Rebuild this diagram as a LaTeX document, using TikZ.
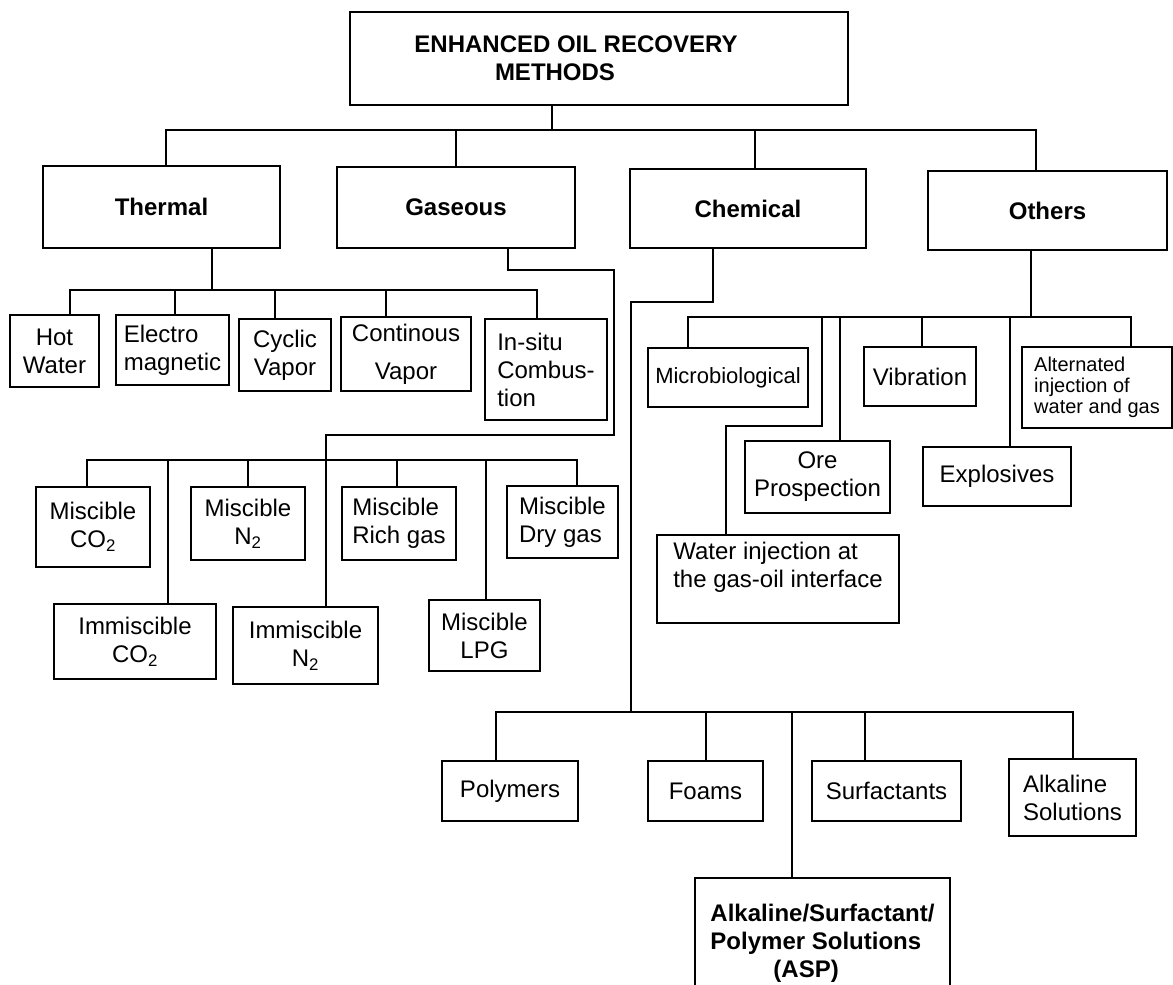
\documentclass[tikz,border=0pt]{standalone}
\usepackage{fontspec}
\setmainfont{Liberation Sans}

\begin{document}
\begin{tikzpicture}[
        x=1pt, y=-1pt,
        box/.style={draw, line width=1.8pt, inner sep=3pt, align=center,
                    font=\fontsize{24}{28}\selectfont},
        head/.style={box, font=\fontsize{24}{28}\selectfont\bfseries},
        note/.style={box, align=left, font=\fontsize{20}{21}\selectfont},
        wh/.style n args={2}{minimum width=#1pt, minimum height=#2pt},
        conn/.style={line width=1.8pt},
    ]
    \useasboundingbox (0,0) rectangle (1173,985);
    \clip (0,0) rectangle (1173,985);

    % --- Root ---
    \node[head, wh={498}{93}] (eor) at (599,58.5)
        {ENHANCED OIL RECOVERY\hspace*{46pt}\\METHODS\hspace*{88pt}};

    % --- Level 1 ---
    \node[head, wh={237}{82}] (thermal) at (161.5,207) {Thermal};
    \node[head, wh={238}{81}] (gaseous) at (456,207.5) {Gaseous};
    \node[head, wh={236}{79}] (chemical) at (748,208.5) {Chemical};
    \node[head, wh={239}{79}] (others) at (1047.5,210.5) {Others};

    % --- Thermal ---
    \node[box, wh={89}{72}] (hotwater) at (54.5,351) {Hot\\Water};
    \node[box, align=left, wh={113}{70}] (electro) at (172.5,350) {Electro\\magnetic};
    \node[box, wh={92}{72}] (cyclic) at (285,355) {Cyclic\\Vapor};
    \node[box, wh={130}{74}] (continous) at (406,354) {Continous\\[10pt]Vapor};
    \node[box, align=left, wh={122}{101}] (insitu) at (546,369.5) {In-situ\\Combus-\\tion};

    % --- Gaseous ---
    \node[box, wh={114}{80}] (mco2) at (93,527) {Miscible\\CO\textsubscript{2}};
    \node[box, wh={114}{73}] (mn2) at (248,523.5) {Miscible\\N\textsubscript{2}};
    \node[box, align=left, wh={114}{73}] (mrich) at (399,523.5) {Miscible\\Rich gas};
    \node[box, align=left, wh={111}{72}] (mdry) at (562.5,522) {Miscible\\Dry gas};
    \node[box, wh={162}{75}] (ico2) at (135,641.5) {Immiscible\\CO\textsubscript{2}};
    \node[box, wh={145}{77}] (in2) at (305.5,645.5) {Immiscible\\N\textsubscript{2}};
    \node[box, wh={111}{71}] (mlpg) at (484.5,635.5) {Miscible\\LPG};

    % --- Chemical ---
    \node[box, wh={136}{60}] (polymers) at (510,791) {Polymers};
    \node[box, wh={115}{60}] (foams) at (705.5,791) {Foams};
    \node[box, wh={149}{60}] (surf) at (886.5,791) {Surfactants};
    \node[box, align=left, wh={127}{77}] (alkaline) at (1072.5,797.5) {Alkaline\\Solutions};
    \node[head, align=left, wh={255}{130}] (asp) at (822.5,943)
        {Alkaline/Surfactant/\\Polymer Solutions\\\hspace*{63pt}(ASP)};

    % --- Others ---
    \node[box, font=\fontsize{22}{26}\selectfont, wh={160}{59}] (micro) at (728,377.5) {Microbiological};
    \node[box, wh={112}{59}] (vibration) at (920,376.5) {Vibration};
    \node[note, wh={150}{81}] (altern) at (1097,387.5) {Alternated\\injection of\\water and gas};
    \node[box, wh={145}{72}] (ore) at (817.5,477) {Ore\\Prospection};
    \node[box, wh={148}{59}] (explos) at (997,476.5) {Explosives};
    \node[box, align=left, wh={242}{88}] (waterinj) at (778,579)
        {Water injection at\\the gas-oil interface\\\mbox{}};

    % --- Connectors: root ---
    \coordinate (rootj) at (552,130);
    \coordinate (k1) at (166,130);
    \coordinate (k2) at (456,130);
    \coordinate (k3) at (755,130);
    \coordinate (k4) at (1036,130);
    \draw[conn] (eor.south -| rootj) -- (rootj);
    \draw[conn] (thermal.north -| k1) -- (k1) -- (k4) -- (others.north -| k4);
    \draw[conn] (k2) -- (gaseous.north -| k2);
    \draw[conn] (k3) -- (chemical.north -| k3);

    % --- Connectors: thermal ---
    \coordinate (tj) at (212,290);
    \coordinate (t1) at (70,290);
    \coordinate (t2) at (175,290);
    \coordinate (t3) at (275,290);
    \coordinate (t4) at (386,290);
    \coordinate (t5) at (537,290);
    \draw[conn] (thermal.south -| tj) -- (tj);
    \draw[conn] (hotwater.north -| t1) -- (t1) -- (t5) -- (insitu.north -| t5);
    \draw[conn] (t2) -- (electro.north -| t2);
    \draw[conn] (t3) -- (cyclic.north -| t3);
    \draw[conn] (t4) -- (continous.north -| t4);

    % --- Connectors: gaseous ---
    \coordinate (g1) at (508,270);
    \coordinate (g2) at (614,270);
    \coordinate (g3) at (614,435);
    \coordinate (g4) at (326,435);
    \draw[conn] (gaseous.south -| g1) -- (g1) -- (g2) -- (g3) -- (g4) -- (in2.north -| g4);
    \coordinate (s1) at (87,460);
    \coordinate (s2) at (168,460);
    \coordinate (s3) at (248,460);
    \coordinate (s4) at (397,460);
    \coordinate (s5) at (486,460);
    \coordinate (s6) at (577,460);
    \draw[conn] (mco2.north -| s1) -- (s1) -- (s6) -- (mdry.north -| s6);
    \draw[conn] (s2) -- (ico2.north -| s2);
    \draw[conn] (s3) -- (mn2.north -| s3);
    \draw[conn] (s4) -- (mrich.north -| s4);
    \draw[conn] (s5) -- (mlpg.north -| s5);

    % --- Connectors: chemical ---
    \coordinate (c1) at (713,302);
    \coordinate (c2) at (631,302);
    \coordinate (c3) at (631,712);
    \draw[conn] (chemical.south -| c1) -- (c1) -- (c2) -- (c3);
    \coordinate (p1) at (496,712);
    \coordinate (p2) at (706,712);
    \coordinate (p3) at (792,712);
    \coordinate (p4) at (865,712);
    \coordinate (p5) at (1073,712);
    \draw[conn] (polymers.north -| p1) -- (p1) -- (p5) -- (alkaline.north -| p5);
    \draw[conn] (p2) -- (foams.north -| p2);
    \draw[conn] (p3) -- (asp.north -| p3);
    \draw[conn] (p4) -- (surf.north -| p4);

    % --- Connectors: others ---
    \coordinate (oj) at (1031,317);
    \coordinate (o1) at (688,317);
    \coordinate (o2) at (822,317);
    \coordinate (o3) at (840,317);
    \coordinate (o4) at (922,317);
    \coordinate (o5) at (1010,317);
    \coordinate (o6) at (1131,317);
    \draw[conn] (others.south -| oj) -- (oj);
    \draw[conn] (micro.north -| o1) -- (o1) -- (o6) -- (altern.north -| o6);
    \coordinate (w1) at (822,426);
    \coordinate (w2) at (726,426);
    \draw[conn] (o2) -- (w1) -- (w2) -- (waterinj.north -| w2);
    \draw[conn] (o3) -- (ore.north -| o3);
    \draw[conn] (o4) -- (vibration.north -| o4);
    \draw[conn] (o5) -- (explos.north -| o5);
\end{tikzpicture}
\end{document}
